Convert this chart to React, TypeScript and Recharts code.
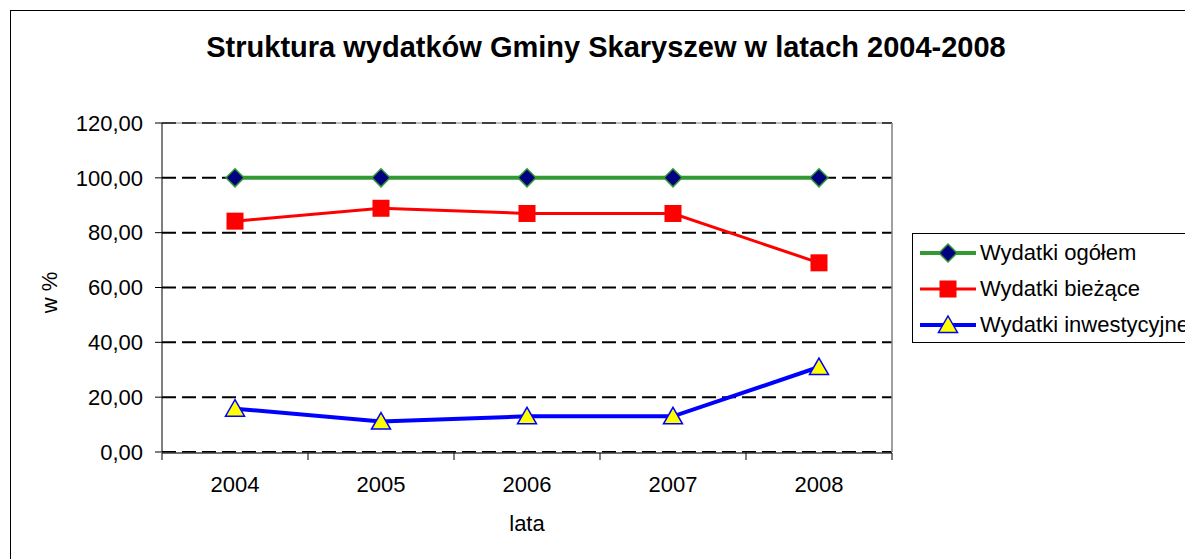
import React from "react";
import {
  LineChart,
  Line,
  XAxis,
  YAxis,
  CartesianGrid,
  ReferenceLine,
} from "recharts";

const years = ["2004", "2005", "2006", "2007", "2008"];
const ogolem = [100, 100, 100, 100, 100];
const biezace = [84.2, 88.9, 87.0, 87.0, 69.0];
const inwestycyjne = [15.8, 11.1, 13.0, 13.0, 31.0];
const yTicks = [0, 20, 40, 60, 80, 100, 120];
// category boundaries, half a step either side of each year index
const edgeTicks = [-0.5, 0.5, 1.5, 2.5, 3.5, 4.5];

const data = years.map((year, i) => ({
  year,
  pos: i,
  ogolem: ogolem[i],
  biezace: biezace[i],
  inwestycyjne: inwestycyjne[i],
}));

const FONT = "'Liberation Sans', Arial, sans-serif";
const GREEN = "#339933";
const NAVY = "#000080";
const RED = "#FF0000";
const BLUE = "#0000FF";
const YELLOW = "#FFFF00";

const fmt = (v: number) => v.toFixed(2).replace(".", ",");

function Diamond({ cx, cy }: any) {
  return (
    <polygon
      points={`${cx},${cy - 9} ${cx + 9},${cy} ${cx},${cy + 9} ${cx - 9},${cy}`}
      fill={NAVY}
      stroke={GREEN}
      strokeWidth={1.5}
    />
  );
}

function Square({ cx, cy }: any) {
  return <rect x={cx - 8.5} y={cy - 8.5} width={17} height={17} fill={RED} />;
}

function Triangle({ cx, cy }: any) {
  return (
    <polygon
      points={`${cx},${cy - 9} ${cx + 9.5},${cy + 7.5} ${cx - 9.5},${cy + 7.5}`}
      fill={YELLOW}
      stroke={BLUE}
      strokeWidth={1.5}
    />
  );
}

const legendItems = [
  { name: "Wydatki ogółem", color: GREEN, width: 4, Mark: Diamond },
  { name: "Wydatki bieżące", color: RED, width: 3, Mark: Square },
  { name: "Wydatki inwestycyjne", color: BLUE, width: 4, Mark: Triangle },
];

function LegendBox() {
  return (
    <div
      style={{
        position: "absolute",
        left: 912,
        top: 233,
        border: "1px solid #000",
        background: "#fff",
        height: 107,
        paddingTop: 1,
        width: 300,
        fontFamily: FONT,
        fontSize: 22,
        color: "#000",
      }}
    >
      {legendItems.map(({ name, color, width, Mark }) => (
        <div
          key={name}
          style={{ display: "flex", alignItems: "center", height: 36, paddingLeft: 7 }}
        >
          <svg width={56} height={22} style={{ marginRight: 4 }}>
            <line x1={0} x2={56} y1={11} y2={11} stroke={color} strokeWidth={width} />
            <Mark cx={28} cy={11} />
          </svg>
          <span style={{ whiteSpace: "nowrap" }}>{name}</span>
        </div>
      ))}
    </div>
  );
}

export default function App() {
  return (
    <div
      style={{
        position: "fixed",
        left: 0,
        top: 0,
        width: 1185,
        height: 559,
        overflow: "hidden",
        background: "#fff",
      }}
    >
      <div
        style={{
          position: "absolute",
          left: 10,
          top: 10,
          width: 1400,
          height: 800,
          border: "1px solid #000",
        }}
      />
      <div
        style={{
          position: "absolute",
          left: 0,
          top: 31,
          width: 1212,
          textAlign: "center",
          fontFamily: FONT,
          fontWeight: "bold",
          fontSize: 29,
          color: "#000",
        }}
      >
        Struktura wydatków Gminy Skaryszew w latach 2004-2008
      </div>
      <div style={{ position: "absolute", left: 0, top: 0 }}>
        <LineChart
          width={1185}
          height={559}
          data={data}
          margin={{ top: 123, right: 293, bottom: 105, left: 0 }}
        >
          <ReferenceLine y={120} stroke="#808080" strokeWidth={1} />
          <CartesianGrid
            vertical={false}
            stroke="#000"
            strokeWidth={2}
            strokeDasharray="14 6"
          />
          <XAxis
            xAxisId="edge"
            dataKey="pos"
            type="number"
            domain={[-0.5, 4.5]}
            ticks={edgeTicks}
            allowDataOverflow
            height={1}
            tick={() => null}
            tickSize={7}
            tickLine={{ stroke: "#000" }}
            axisLine={{ stroke: "#404040", strokeWidth: 1.5 }}
          />
          <XAxis
            dataKey="year"
            scale="band"
            height={1}
            axisLine={false}
            tickLine={false}
            tickSize={0}
            tickMargin={24}
            tick={{ fill: "#000", fontSize: 22, fontFamily: FONT }}
            label={{
              content: ({ viewBox }: any) => (
                <text
                  x={viewBox.x + viewBox.width / 2}
                  y={viewBox.y + 79}
                  textAnchor="middle"
                  fill="#000"
                  fontSize={22}
                  fontFamily={FONT}
                >
                  lata
                </text>
              ),
            }}
          />
          <YAxis
            width={162}
            domain={[0, 120]}
            ticks={yTicks}
            tickFormatter={fmt}
            tickSize={7}
            tickMargin={12}
            axisLine={{ stroke: "#000" }}
            tickLine={{ stroke: "#000" }}
            tick={{ fill: "#000", fontSize: 22, fontFamily: FONT }}
            label={{
              content: ({ viewBox }: any) => {
                const x = 57;
                const y = viewBox.y + viewBox.height / 2 + 5;
                return (
                  <text
                    x={x}
                    y={y}
                    transform={`rotate(-90 ${x} ${y})`}
                    textAnchor="middle"
                    fill="#000"
                    fontSize={22}
                    fontFamily={FONT}
                  >
                    w %
                  </text>
                );
              },
            }}
          />
          <ReferenceLine xAxisId="edge" x={4.5} stroke="#808080" strokeWidth={1.5} />
          <Line
            dataKey="ogolem"
            stroke={GREEN}
            strokeWidth={4}
            dot={(p: any) => <Diamond key={`d${p.index}`} cx={p.cx} cy={p.cy} />}
            isAnimationActive={false}
          />
          <Line
            dataKey="biezace"
            stroke={RED}
            strokeWidth={3}
            dot={(p: any) => <Square key={`s${p.index}`} cx={p.cx} cy={p.cy} />}
            isAnimationActive={false}
          />
          <Line
            dataKey="inwestycyjne"
            stroke={BLUE}
            strokeWidth={4}
            dot={(p: any) => <Triangle key={`t${p.index}`} cx={p.cx} cy={p.cy} />}
            isAnimationActive={false}
          />
        </LineChart>
      </div>
      <LegendBox />
    </div>
  );
}
